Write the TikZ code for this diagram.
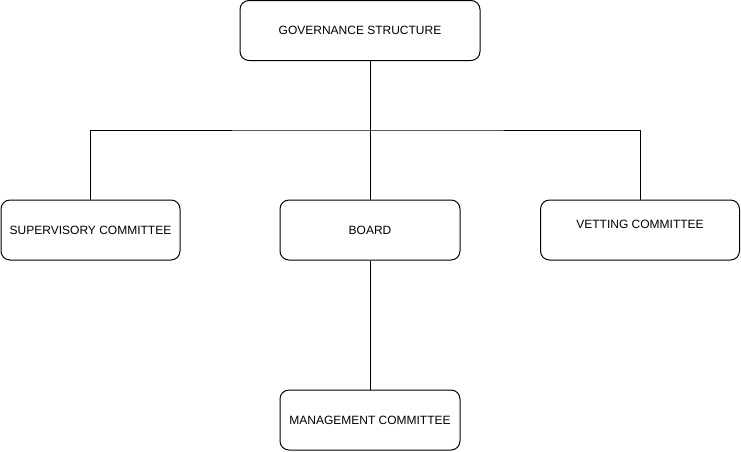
\documentclass[tikz,border=0pt]{standalone}
\usepackage{fontspec}
\setmainfont{Liberation Sans}
\usetikzlibrary{positioning}

\begin{document}
\begin{tikzpicture}[x=1pt, y=-1pt, line width=1pt,
	orgbox/.style={draw, rounded corners=9pt, minimum height=60pt, inner sep=0pt, font=\fontsize{12}{14}\selectfont}]

	\useasboundingbox (0,0) rectangle (741,451);

	% draw boxes
	\node[orgbox, minimum width=240pt] (gov) at (360,30.5) {GOVERNANCE STRUCTURE};
	\node[orgbox, minimum width=179pt] (sup) at (90.5,230) {SUPERVISORY COMMITTEE};
	\node[orgbox, minimum width=180pt] (board) at (370,230) {BOARD};
	\node[orgbox, minimum width=199pt, text depth=12pt] (vet) at (640,230) {VETTING COMMITTEE};
	\node[orgbox, minimum width=180pt] (mgmt) at (370,420) {MANAGEMENT COMMITTEE};

	% draw edges
	\coordinate (bus) at (370,130);
	\draw ([xshift=10pt]gov.south) -- (board.north);
	\draw (sup.north) |- (bus) -| (vet.north);
	\draw (board) -- (mgmt);

\end{tikzpicture}
\end{document}
